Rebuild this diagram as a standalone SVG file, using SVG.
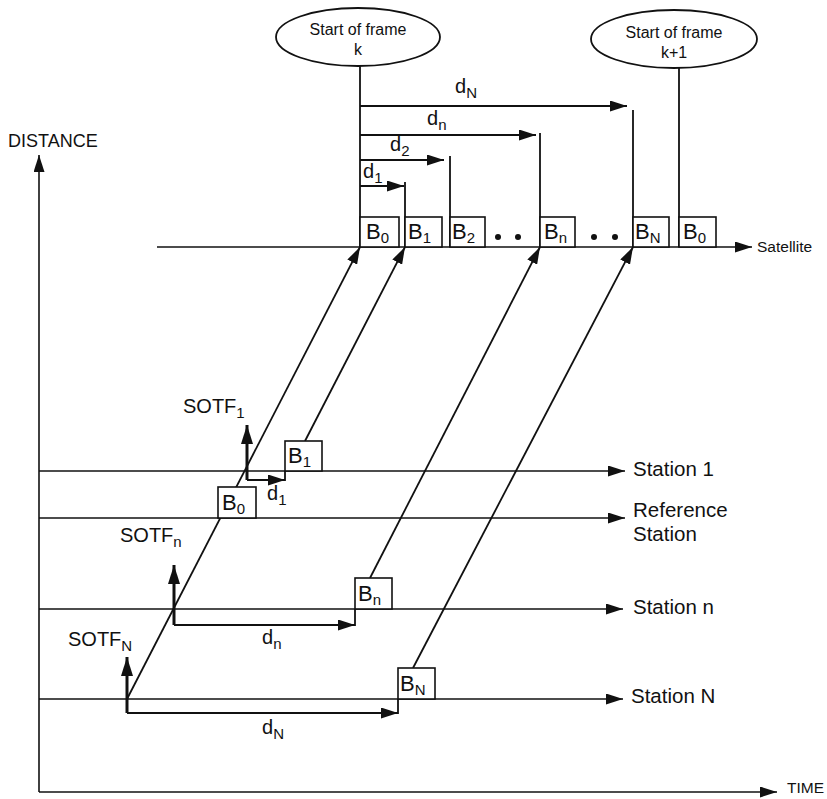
<svg xmlns="http://www.w3.org/2000/svg" width="827" height="799" viewBox="0 0 827 799">
  <style>
    .ln { stroke: #111; stroke-width: 1.8; fill: none; }
    .ax { stroke: #111; stroke-width: 1.6; fill: none; }
    .thick { stroke: #111; stroke-width: 3; fill: none; }
    .box { stroke: #111; stroke-width: 1.6; fill: #fff; }
    .oval { stroke: #111; stroke-width: 1.8; fill: #fff; }
    text { font-family: "Liberation Sans", Arial, sans-serif; fill: #111; }
    .lbl { font-size: 20px; }
    .blk { font-size: 22px; }
    .st { font-size: 20.5px; }
    .sm { font-size: 15.5px; }
    .sub { font-size: 15px; }
    .dot { fill: #111; }
  </style>
  <defs>
    <marker id="arr" markerUnits="userSpaceOnUse" markerWidth="18" markerHeight="11" refX="17" refY="5.5" orient="auto">
      <path d="M0,0 L17,5.5 L0,11 z" fill="#111"/>
    </marker>
    <marker id="arrUp" markerUnits="userSpaceOnUse" markerWidth="20" markerHeight="12" refX="19" refY="6" orient="auto">
      <path d="M0,0 L19,6 L0,12 z" fill="#111"/>
    </marker>
  </defs>

  <!-- axes -->
  <g id="axes">
    <line class="ax" x1="39" y1="792" x2="39" y2="155" marker-end="url(#arr)"/>
    <line class="ax" x1="39" y1="792" x2="777" y2="792" marker-end="url(#arr)"/>
    <text x="8" y="147" style="font-size:18px">DISTANCE</text>
    <text x="787" y="793" class="sm">TIME</text>
  </g>

  <!-- satellite time line -->
  <g id="satellite">
    <line class="ax" x1="157" y1="247" x2="752" y2="247" marker-end="url(#arr)"/>
    <text x="757" y="252" class="sm">Satellite</text>
  </g>

  <!-- frame markers -->
  <g id="frame-k">
    <line class="ln" x1="360" y1="66" x2="360" y2="247"/>
    <ellipse class="oval" cx="358" cy="37" rx="82" ry="29"/>
    <text x="358" y="35" text-anchor="middle" style="font-size:16px">Start of frame</text>
    <text x="358" y="55" text-anchor="middle" style="font-size:16px">k</text>
  </g>
  <g id="frame-k1">
    <line class="ln" x1="679" y1="68" x2="679" y2="247"/>
    <ellipse class="oval" cx="674" cy="39" rx="83" ry="29"/>
    <text x="674" y="38" text-anchor="middle" style="font-size:16px">Start of frame</text>
    <text x="674" y="58" text-anchor="middle" style="font-size:16px">k+1</text>
  </g>

  <!-- delays measured from start of frame -->
  <g id="connectors">
    <line class="ln" x1="360" y1="106" x2="627" y2="106" marker-end="url(#arr)"/>
    <line class="ln" x1="633" y1="110" x2="633" y2="247"/>
    <line class="ln" x1="360" y1="135" x2="536" y2="135" marker-end="url(#arr)"/>
    <line class="ln" x1="540" y1="133" x2="540" y2="247"/>
    <line class="ln" x1="360" y1="160" x2="444" y2="160" marker-end="url(#arr)"/>
    <line class="ln" x1="450" y1="156" x2="450" y2="247"/>
    <line class="ln" x1="360" y1="186" x2="404" y2="186" marker-end="url(#arr)"/>
    <line class="ln" x1="405" y1="182" x2="405" y2="247"/>

    <!-- station time lines -->
    <line class="ax" x1="39" y1="471" x2="625" y2="471" marker-end="url(#arr)"/>
    <line class="ax" x1="39" y1="518" x2="625" y2="518" marker-end="url(#arr)"/>
    <line class="ax" x1="39" y1="609" x2="623" y2="609" marker-end="url(#arr)"/>
    <line class="ax" x1="39" y1="699" x2="623" y2="699" marker-end="url(#arr)"/>

    <!-- uplink paths to satellite -->
    <line class="ln" x1="127" y1="699" x2="360" y2="247" marker-end="url(#arr)"/>
    <line class="ln" x1="305" y1="441" x2="405" y2="247" marker-end="url(#arr)"/>
    <line class="ln" x1="370" y1="578" x2="540" y2="247" marker-end="url(#arr)"/>
    <line class="ln" x1="413" y1="668" x2="633" y2="247" marker-end="url(#arr)"/>

    <!-- start-of-transmit-frame markers -->
    <line class="thick" x1="247" y1="480" x2="247" y2="425" marker-end="url(#arrUp)"/>
    <line class="thick" x1="174" y1="625" x2="174" y2="565" marker-end="url(#arrUp)"/>
    <line class="thick" x1="127" y1="713" x2="127" y2="657" marker-end="url(#arrUp)"/>

    <!-- station delays -->
    <line class="ln" x1="247" y1="480" x2="285" y2="480" marker-end="url(#arr)"/>
    <line class="ln" x1="285" y1="471" x2="285" y2="481"/>
    <line class="ln" x1="174" y1="625" x2="355" y2="625" marker-end="url(#arr)"/>
    <line class="ln" x1="355" y1="609" x2="355" y2="626"/>
    <line class="ln" x1="127" y1="713" x2="398" y2="713" marker-end="url(#arr)"/>
    <line class="ln" x1="398" y1="699" x2="398" y2="714"/>
  </g>

  <!-- delay labels -->
  <g id="delay-labels" class="lbl">
    <text x="455" y="93">d<tspan class="sub" dy="5">N</tspan></text>
    <text x="427" y="125">d<tspan class="sub" dy="5">n</tspan></text>
    <text x="390" y="151">d<tspan class="sub" dy="5">2</tspan></text>
    <text x="363" y="178">d<tspan class="sub" dy="5">1</tspan></text>
    <text x="267" y="500">d<tspan class="sub" dy="5">1</tspan></text>
    <text x="262" y="644">d<tspan class="sub" dy="5">n</tspan></text>
    <text x="262" y="734">d<tspan class="sub" dy="5">N</tspan></text>
    <text x="183" y="413">SOTF<tspan class="sub" dy="5">1</tspan></text>
    <text x="120" y="542">SOTF<tspan class="sub" dy="5">n</tspan></text>
    <text x="68" y="646">SOTF<tspan class="sub" dy="5">N</tspan></text>
  </g>

  <!-- bursts in the satellite frame -->
  <g id="sat-B0">
    <rect class="box" x="360" y="217" width="39" height="30"/>
    <text x="366" y="239" class="blk">B<tspan class="sub" dy="4">0</tspan></text>
  </g>
  <g id="sat-B1">
    <rect class="box" x="405" y="217" width="37" height="30"/>
    <text x="408" y="239" class="blk">B<tspan class="sub" dy="4">1</tspan></text>
  </g>
  <g id="sat-B2">
    <rect class="box" x="450" y="217" width="35" height="30"/>
    <text x="452" y="239" class="blk">B<tspan class="sub" dy="4">2</tspan></text>
  </g>
  <g id="sat-dots1">
    <circle class="dot" cx="498" cy="237" r="3"/>
    <circle class="dot" cx="518" cy="237" r="3"/>
  </g>
  <g id="sat-Bn">
    <rect class="box" x="540" y="217" width="35" height="30"/>
    <text x="544" y="239" class="blk">B<tspan class="sub" dy="4">n</tspan></text>
  </g>
  <g id="sat-dots2">
    <circle class="dot" cx="594" cy="237" r="3"/>
    <circle class="dot" cx="615" cy="237" r="3"/>
  </g>
  <g id="sat-BN">
    <rect class="box" x="633" y="217" width="36" height="30"/>
    <text x="635" y="239" class="blk">B<tspan class="sub" dy="4">N</tspan></text>
  </g>
  <g id="sat-B0-next">
    <rect class="box" x="679" y="217" width="37" height="30"/>
    <text x="683" y="239" class="blk">B<tspan class="sub" dy="4">0</tspan></text>
  </g>

  <!-- bursts at the earth stations -->
  <g id="st1-B1">
    <rect class="box" x="285" y="441" width="37" height="30"/>
    <text x="288" y="463" class="blk">B<tspan class="sub" dy="4">1</tspan></text>
  </g>
  <g id="ref-B0">
    <rect class="box" x="218" y="487" width="38" height="31"/>
    <text x="222" y="510" class="blk">B<tspan class="sub" dy="4">0</tspan></text>
  </g>
  <g id="stn-Bn">
    <rect class="box" x="355" y="578" width="37" height="31"/>
    <text x="358" y="601" class="blk">B<tspan class="sub" dy="4">n</tspan></text>
  </g>
  <g id="stN-BN">
    <rect class="box" x="398" y="668" width="37" height="31"/>
    <text x="400" y="691" class="blk">B<tspan class="sub" dy="4">N</tspan></text>
  </g>

  <!-- station names -->
  <g id="station-labels" class="st">
    <text x="633" y="476">Station 1</text>
    <text x="633" y="517">Reference</text>
    <text x="633" y="541">Station</text>
    <text x="633" y="614">Station n</text>
    <text x="631" y="703">Station N</text>
  </g>
</svg>
